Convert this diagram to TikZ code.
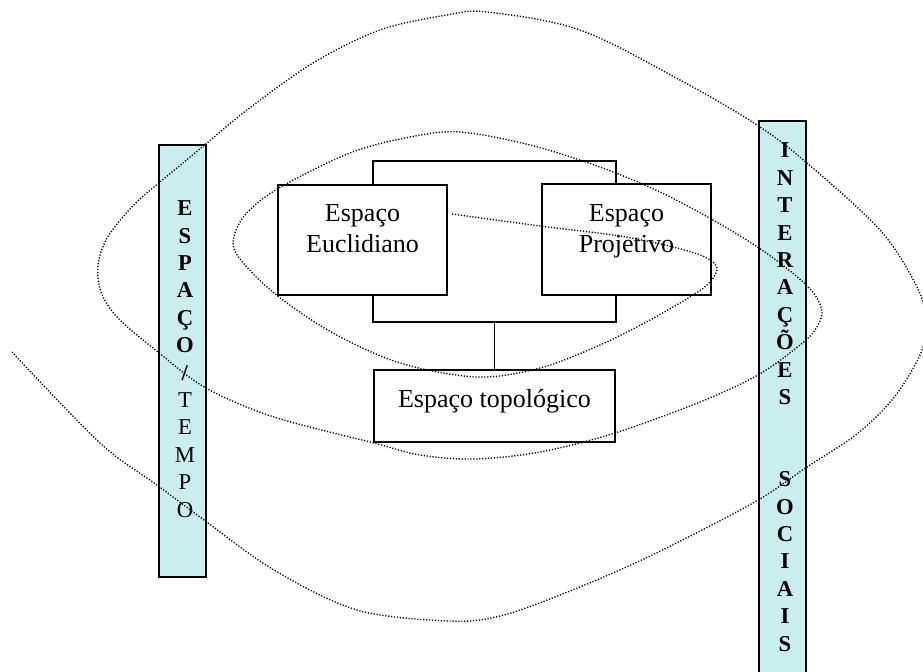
\documentclass[tikz,border=0pt]{standalone}
\usepackage{fontspec}
\setmainfont{Liberation Serif}
\definecolor{barfill}{RGB}{200,238,238}
\tikzset{
  box/.style={draw, line width=1.3pt, inner sep=0pt},
  lbl/.style={font=\fontsize{19.5}{23.2}\selectfont, align=center, inner sep=0pt},
  bar/.style={draw, line width=1.5pt, fill=barfill, inner sep=0pt},
  bartext/.style={font=\fontsize{17}{20.55}\selectfont, align=center, inner sep=0pt},
  conn/.style={line width=1.3pt},
  spiral/.style={line width=1pt, dash pattern=on 0.9pt off 1.3pt},
}
\begin{document}
\begin{tikzpicture}[x=0.75pt,y=-0.75pt]
\useasboundingbox (0,0) rectangle (923,671);
\clip (0,0) rectangle (923,671);
% side bars
\node[bar, minimum width=47*0.75pt, minimum height=432*0.75pt] (lbar) at (182.5,361) {};
\node[bar, minimum width=47*0.75pt, minimum height=569*0.75pt] (rbar) at (782.5,405.5) {};
\node[bartext, anchor=base] (ltext) at (185,517) {\textbf{E}\\\textbf{S}\\\textbf{P}\\\textbf{A}\\\textbf{Ç}\\\textbf{O}\\\textbf{/}\\T\\E\\M\\P\\O};
\node[bartext, anchor=base, font=\fontsize{17}{20.55}\selectfont\bfseries] (rtext) at (785,651) {I\\N\\T\\E\\R\\A\\Ç\\Õ\\E\\S\\[41.1pt]S\\O\\C\\I\\A\\I\\S};
% boxes
\node[box, minimum width=169*0.75pt, minimum height=110*0.75pt] (eu) at (362.5,240) {};
\node[box, minimum width=169*0.75pt, minimum height=111*0.75pt] (pj) at (626.5,239.5) {};
\node[box, minimum width=241*0.75pt, minimum height=72*0.75pt] (topo) at (494.5,406) {};
\node[lbl, anchor=base] (eut) at (362.5,252) {Espaço\\Euclidiano};
\node[lbl, anchor=base] (pjt) at (626.5,252) {Espaço\\Projetivo};
\node[lbl, anchor=base] (topot) at (494.5,407) {Espaço topológico};
% connectors
\coordinate (topy) at (494.5,161);
\coordinate (boty) at (494.5,322);
\draw[conn] (eu.north -| topo.west) |- (topy) -| (pj.north -| topo.east);
\draw[conn] (eu.south -| topo.west) |- (boty) -| (pj.south -| topo.east);
\draw[conn] (boty) -- (topo.north);
% spiral
\draw[spiral] plot[smooth, tension=0.55] coordinates {
(452,214) (540,226) (620,236) (673,247) (705,257) (717,268) (710,282) (693,295)
(650,320) (600,345) (540,368) (477,377) (400,363) (333,333) (279,297) (245,265)
(233,243) (245,215) (279,188) (350,153) (410,137) (460,132) (530,145) (600,167)
(660,192) (713,220) (759,248) (795,275) (815,295) (822,313) (815,330) (800,345)
(758,375) (700,402) (615,433) (540,452) (474,459) (420,455) (374,443) (274,417)
(206,388) (158,352) (118,318) (101,292) (98,265) (106,240) (122,218) (140,199) (160,182)
(207,143) (247,110) (313,63) (380,30) (447,15) (487,12) (580,30) (680,80)
(757,125) (807,163) (880,230) (916,285) (926,318) (922,350) (903,385) (883,410)
(853,437) (807,467) (753,503) (648,557) (565,593) (500,616) (449,621) (357,610)
(274,570) (204,520) (157,485) (100,443) (12,352)};
\end{tikzpicture}
\end{document}
